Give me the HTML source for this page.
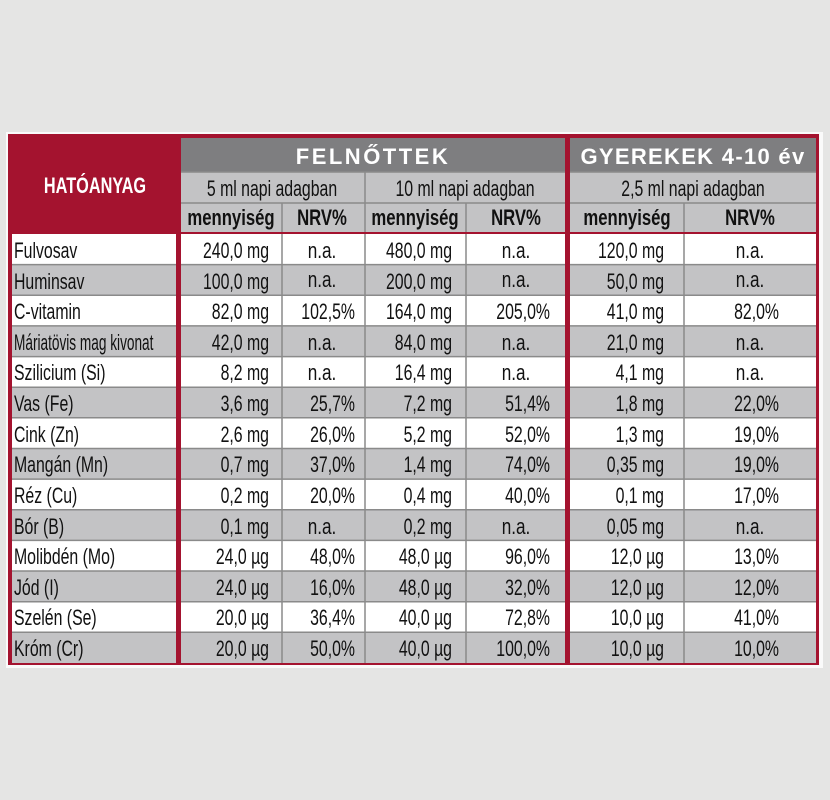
<!DOCTYPE html>
<html><head><meta charset="utf-8"><style>
html,body{margin:0;padding:0;background:#e5e5e4;}
svg{display:block;}
text{font-family:"Liberation Sans",sans-serif;fill:#111;font-size:22px;}
.h{fill:#fff;font-weight:bold;}
.b{font-weight:bold;}
</style></head><body>
<svg width="830" height="800" viewBox="0 0 830 800" xmlns="http://www.w3.org/2000/svg">
<rect x="0" y="0" width="830" height="800" fill="#e5e5e4"/>
<rect x="6" y="132" width="817" height="536" fill="#fafafa"/>
<rect x="8" y="134" width="811" height="531" fill="#a4132f"/>
<rect x="181" y="138" width="384" height="34" fill="#7e7e80"/>
<rect x="570" y="138" width="246" height="34" fill="#7e7e80"/>
<rect x="181" y="172" width="384" height="60" fill="#c3c3c5"/>
<rect x="570" y="172" width="246" height="60" fill="#c3c3c5"/>
<g stroke="#8a8a8a" stroke-width="1.5">
<line x1="181" y1="172" x2="565" y2="172"/><line x1="570" y1="172" x2="816" y2="172"/>
<line x1="181" y1="203" x2="565" y2="203"/><line x1="570" y1="203" x2="816" y2="203"/>
<line x1="365" y1="172" x2="365" y2="232"/>
<line x1="282" y1="203" x2="282" y2="232"/><line x1="466" y1="203" x2="466" y2="232"/>
<line x1="684" y1="203" x2="684" y2="232"/>
</g>
<g>
<rect x="12" y="234" width="164" height="30.6" fill="#fff"/><rect x="181" y="234" width="384" height="30.6" fill="#fff"/><rect x="570" y="234" width="246" height="30.6" fill="#fff"/>
<rect x="12" y="264.6" width="164" height="30.6" fill="#c3c3c5"/><rect x="181" y="264.6" width="384" height="30.6" fill="#c3c3c5"/><rect x="570" y="264.6" width="246" height="30.6" fill="#c3c3c5"/>
<rect x="12" y="295.3" width="164" height="30.6" fill="#fff"/><rect x="181" y="295.3" width="384" height="30.6" fill="#fff"/><rect x="570" y="295.3" width="246" height="30.6" fill="#fff"/>
<rect x="12" y="325.9" width="164" height="30.6" fill="#c3c3c5"/><rect x="181" y="325.9" width="384" height="30.6" fill="#c3c3c5"/><rect x="570" y="325.9" width="246" height="30.6" fill="#c3c3c5"/>
<rect x="12" y="356.6" width="164" height="30.6" fill="#fff"/><rect x="181" y="356.6" width="384" height="30.6" fill="#fff"/><rect x="570" y="356.6" width="246" height="30.6" fill="#fff"/>
<rect x="12" y="387.2" width="164" height="30.6" fill="#c3c3c5"/><rect x="181" y="387.2" width="384" height="30.6" fill="#c3c3c5"/><rect x="570" y="387.2" width="246" height="30.6" fill="#c3c3c5"/>
<rect x="12" y="417.8" width="164" height="30.6" fill="#fff"/><rect x="181" y="417.8" width="384" height="30.6" fill="#fff"/><rect x="570" y="417.8" width="246" height="30.6" fill="#fff"/>
<rect x="12" y="448.5" width="164" height="30.6" fill="#c3c3c5"/><rect x="181" y="448.5" width="384" height="30.6" fill="#c3c3c5"/><rect x="570" y="448.5" width="246" height="30.6" fill="#c3c3c5"/>
<rect x="12" y="479.1" width="164" height="30.6" fill="#fff"/><rect x="181" y="479.1" width="384" height="30.6" fill="#fff"/><rect x="570" y="479.1" width="246" height="30.6" fill="#fff"/>
<rect x="12" y="509.8" width="164" height="30.6" fill="#c3c3c5"/><rect x="181" y="509.8" width="384" height="30.6" fill="#c3c3c5"/><rect x="570" y="509.8" width="246" height="30.6" fill="#c3c3c5"/>
<rect x="12" y="540.4" width="164" height="30.6" fill="#fff"/><rect x="181" y="540.4" width="384" height="30.6" fill="#fff"/><rect x="570" y="540.4" width="246" height="30.6" fill="#fff"/>
<rect x="12" y="571" width="164" height="30.6" fill="#c3c3c5"/><rect x="181" y="571" width="384" height="30.6" fill="#c3c3c5"/><rect x="570" y="571" width="246" height="30.6" fill="#c3c3c5"/>
<rect x="12" y="601.7" width="164" height="30.6" fill="#fff"/><rect x="181" y="601.7" width="384" height="30.6" fill="#fff"/><rect x="570" y="601.7" width="246" height="30.6" fill="#fff"/>
<rect x="12" y="632.3" width="164" height="30.7" fill="#c3c3c5"/><rect x="181" y="632.3" width="384" height="30.7" fill="#c3c3c5"/><rect x="570" y="632.3" width="246" height="30.7" fill="#c3c3c5"/>
</g>
<g stroke="#8a8a8a" stroke-width="1.5">
<line x1="282" y1="234" x2="282" y2="663"/><line x1="365" y1="234" x2="365" y2="663"/><line x1="466" y1="234" x2="466" y2="663"/><line x1="684" y1="234" x2="684" y2="663"/>
<line x1="12" y1="264.6" x2="816" y2="264.6"/><line x1="12" y1="295.3" x2="816" y2="295.3"/><line x1="12" y1="325.9" x2="816" y2="325.9"/><line x1="12" y1="356.6" x2="816" y2="356.6"/><line x1="12" y1="387.2" x2="816" y2="387.2"/><line x1="12" y1="417.8" x2="816" y2="417.8"/><line x1="12" y1="448.5" x2="816" y2="448.5"/><line x1="12" y1="479.1" x2="816" y2="479.1"/><line x1="12" y1="509.8" x2="816" y2="509.8"/><line x1="12" y1="540.4" x2="816" y2="540.4"/><line x1="12" y1="571" x2="816" y2="571"/><line x1="12" y1="601.7" x2="816" y2="601.7"/><line x1="12" y1="632.3" x2="816" y2="632.3"/>
</g>
<rect x="176" y="234" width="5" height="430" fill="#a4132f"/><rect x="565" y="134" width="5" height="530" fill="#a4132f"/>
<text class="h" transform="translate(95,193) scale(0.74,1)" text-anchor="middle" font-size="23">HATÓANYAG</text>
<text class="h" x="373" y="164" text-anchor="middle" font-size="19" letter-spacing="2.5">FELNŐTTEK</text>
<text class="h" x="693" y="164" text-anchor="middle" font-size="19" letter-spacing="1.3">GYEREKEK 4-10 év</text>
<text transform="translate(272,196) scale(0.72,1)" text-anchor="middle" font-size="22">5 ml napi adagban</text>
<text transform="translate(465,196) scale(0.72,1)" text-anchor="middle" font-size="22">10 ml napi adagban</text>
<text transform="translate(693,196) scale(0.72,1)" text-anchor="middle" font-size="22">2,5 ml napi adagban</text>
<text class="b" transform="translate(231,225) scale(0.76,1)" text-anchor="middle" font-size="21">mennyiség</text>
<text class="b" transform="translate(322,225) scale(0.76,1)" text-anchor="middle" font-size="21">NRV%</text>
<text class="b" transform="translate(415,225) scale(0.76,1)" text-anchor="middle" font-size="21">mennyiség</text>
<text class="b" transform="translate(516,225) scale(0.76,1)" text-anchor="middle" font-size="21">NRV%</text>
<text class="b" transform="translate(627,225) scale(0.76,1)" text-anchor="middle" font-size="21">mennyiség</text>
<text class="b" transform="translate(750,225) scale(0.76,1)" text-anchor="middle" font-size="21">NRV%</text>
<g>
<text transform="translate(14,258) scale(0.72,1)">Fulvosav</text>
<text transform="translate(14,289) scale(0.72,1)">Huminsav</text>
<text transform="translate(14,319) scale(0.72,1)">C-vitamin</text>
<text transform="translate(14,350) scale(0.62,1)">Máriatövis mag kivonat</text>
<text transform="translate(14,380) scale(0.72,1)">Szilicium (Si)</text>
<text transform="translate(14,411) scale(0.72,1)">Vas (Fe)</text>
<text transform="translate(14,442) scale(0.72,1)">Cink (Zn)</text>
<text transform="translate(14,472) scale(0.72,1)">Mangán (Mn)</text>
<text transform="translate(14,503) scale(0.72,1)">Réz (Cu)</text>
<text transform="translate(14,534) scale(0.72,1)">Bór (B)</text>
<text transform="translate(14,564) scale(0.72,1)">Molibdén (Mo)</text>
<text transform="translate(14,595) scale(0.72,1)">Jód (I)</text>
<text transform="translate(14,625) scale(0.72,1)">Szelén (Se)</text>
<text transform="translate(14,656) scale(0.72,1)">Króm (Cr)</text>
</g>
<g text-anchor="end">
<text transform="translate(269,258) scale(0.72,1)">240,0 mg</text><text transform="translate(452,258) scale(0.72,1)">480,0 mg</text><text transform="translate(664,258) scale(0.72,1)">120,0 mg</text>
<text transform="translate(269,289) scale(0.72,1)">100,0 mg</text><text transform="translate(452,289) scale(0.72,1)">200,0 mg</text><text transform="translate(664,289) scale(0.72,1)">50,0 mg</text>
<text transform="translate(269,319) scale(0.72,1)">82,0 mg</text><text transform="translate(452,319) scale(0.72,1)">164,0 mg</text><text transform="translate(664,319) scale(0.72,1)">41,0 mg</text>
<text transform="translate(269,350) scale(0.72,1)">42,0 mg</text><text transform="translate(452,350) scale(0.72,1)">84,0 mg</text><text transform="translate(664,350) scale(0.72,1)">21,0 mg</text>
<text transform="translate(269,380) scale(0.72,1)">8,2 mg</text><text transform="translate(452,380) scale(0.72,1)">16,4 mg</text><text transform="translate(664,380) scale(0.72,1)">4,1 mg</text>
<text transform="translate(269,411) scale(0.72,1)">3,6 mg</text><text transform="translate(452,411) scale(0.72,1)">7,2 mg</text><text transform="translate(664,411) scale(0.72,1)">1,8 mg</text>
<text transform="translate(269,442) scale(0.72,1)">2,6 mg</text><text transform="translate(452,442) scale(0.72,1)">5,2 mg</text><text transform="translate(664,442) scale(0.72,1)">1,3 mg</text>
<text transform="translate(269,472) scale(0.72,1)">0,7 mg</text><text transform="translate(452,472) scale(0.72,1)">1,4 mg</text><text transform="translate(664,472) scale(0.72,1)">0,35 mg</text>
<text transform="translate(269,503) scale(0.72,1)">0,2 mg</text><text transform="translate(452,503) scale(0.72,1)">0,4 mg</text><text transform="translate(664,503) scale(0.72,1)">0,1 mg</text>
<text transform="translate(269,534) scale(0.72,1)">0,1 mg</text><text transform="translate(452,534) scale(0.72,1)">0,2 mg</text><text transform="translate(664,534) scale(0.72,1)">0,05 mg</text>
<text transform="translate(269,564) scale(0.72,1)">24,0 µg</text><text transform="translate(452,564) scale(0.72,1)">48,0 µg</text><text transform="translate(664,564) scale(0.72,1)">12,0 µg</text>
<text transform="translate(269,595) scale(0.72,1)">24,0 µg</text><text transform="translate(452,595) scale(0.72,1)">48,0 µg</text><text transform="translate(664,595) scale(0.72,1)">12,0 µg</text>
<text transform="translate(269,625) scale(0.72,1)">20,0 µg</text><text transform="translate(452,625) scale(0.72,1)">40,0 µg</text><text transform="translate(664,625) scale(0.72,1)">10,0 µg</text>
<text transform="translate(269,656) scale(0.72,1)">20,0 µg</text><text transform="translate(452,656) scale(0.72,1)">40,0 µg</text><text transform="translate(664,656) scale(0.72,1)">10,0 µg</text>
<text transform="translate(355,319) scale(0.72,1)">102,5%</text><text transform="translate(550,319) scale(0.72,1)">205,0%</text><text transform="translate(779,319) scale(0.72,1)">82,0%</text>
<text transform="translate(355,411) scale(0.72,1)">25,7%</text><text transform="translate(550,411) scale(0.72,1)">51,4%</text><text transform="translate(779,411) scale(0.72,1)">22,0%</text>
<text transform="translate(355,442) scale(0.72,1)">26,0%</text><text transform="translate(550,442) scale(0.72,1)">52,0%</text><text transform="translate(779,442) scale(0.72,1)">19,0%</text>
<text transform="translate(355,472) scale(0.72,1)">37,0%</text><text transform="translate(550,472) scale(0.72,1)">74,0%</text><text transform="translate(779,472) scale(0.72,1)">19,0%</text>
<text transform="translate(355,503) scale(0.72,1)">20,0%</text><text transform="translate(550,503) scale(0.72,1)">40,0%</text><text transform="translate(779,503) scale(0.72,1)">17,0%</text>
<text transform="translate(355,564) scale(0.72,1)">48,0%</text><text transform="translate(550,564) scale(0.72,1)">96,0%</text><text transform="translate(779,564) scale(0.72,1)">13,0%</text>
<text transform="translate(355,595) scale(0.72,1)">16,0%</text><text transform="translate(550,595) scale(0.72,1)">32,0%</text><text transform="translate(779,595) scale(0.72,1)">12,0%</text>
<text transform="translate(355,625) scale(0.72,1)">36,4%</text><text transform="translate(550,625) scale(0.72,1)">72,8%</text><text transform="translate(779,625) scale(0.72,1)">41,0%</text>
<text transform="translate(355,656) scale(0.72,1)">50,0%</text><text transform="translate(550,656) scale(0.72,1)">100,0%</text><text transform="translate(779,656) scale(0.72,1)">10,0%</text>
</g>
<g text-anchor="middle">
<text transform="translate(322,258) scale(0.78,1)">n.a.</text><text transform="translate(516,258) scale(0.78,1)">n.a.</text><text transform="translate(750,258) scale(0.78,1)">n.a.</text>
<text transform="translate(322,287) scale(0.78,1)">n.a.</text><text transform="translate(516,287) scale(0.78,1)">n.a.</text><text transform="translate(750,287) scale(0.78,1)">n.a.</text>
<text transform="translate(322,350) scale(0.78,1)">n.a.</text><text transform="translate(516,350) scale(0.78,1)">n.a.</text><text transform="translate(750,350) scale(0.78,1)">n.a.</text>
<text transform="translate(322,380) scale(0.78,1)">n.a.</text><text transform="translate(516,380) scale(0.78,1)">n.a.</text><text transform="translate(750,380) scale(0.78,1)">n.a.</text>
<text transform="translate(322,534) scale(0.78,1)">n.a.</text><text transform="translate(516,534) scale(0.78,1)">n.a.</text><text transform="translate(750,534) scale(0.78,1)">n.a.</text>
</g>
</svg>
</body></html>
